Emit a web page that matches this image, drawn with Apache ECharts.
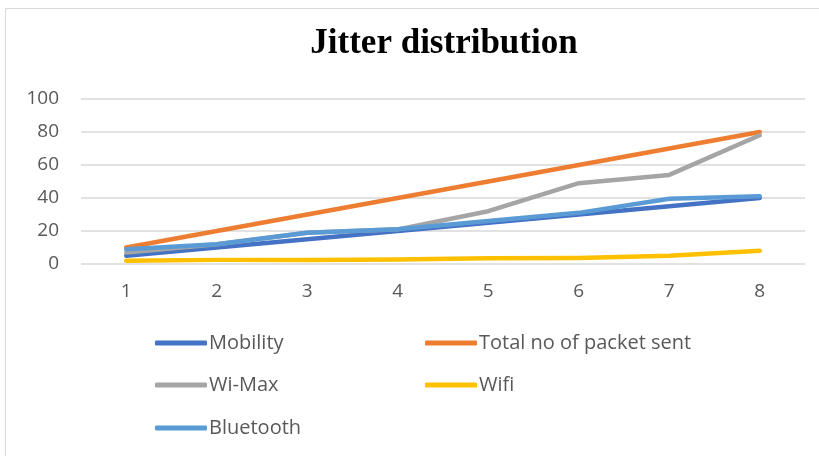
<!DOCTYPE html>
<html>
<head>
<meta charset="utf-8">
<script src="https://cdn.jsdelivr.net/npm/echarts@6/dist/echarts.min.js"></script>
<style>
  html, body { margin: 0; padding: 0; background: #fff; }
  #chart { width: 819px; height: 456px; }
</style>
</head>
<body>
<div id="chart"></div>
<script>
// data
var categories = ['1', '2', '3', '4', '5', '6', '7', '8'];
var mobility = [5, 10, 15, 20, 25, 30, 35, 40];
var totalSent = [10, 20, 30, 40, 50, 60, 70, 80];
var wiMax = [7, 12, 19, 21, 32, 49, 54, 78];
var wifi = [2, 2.5, 2.5, 2.7, 3.5, 3.7, 5, 8];
var bluetooth = [9, 12, 19, 21, 26, 31, 39.5, 41];

var names = ['Mobility', 'Total no of packet sent', 'Wi-Max', 'Wifi', 'Bluetooth'];
var colors = ['#4472c4', '#ed7d31', '#a5a5a5', '#ffc000', '#5b9bd5'];
var values = [mobility, totalSent, wiMax, wifi, bluetooth];

// legend positions (two columns)
var legendPos = [[155, 333], [425, 333], [155, 375], [425, 375], [155, 418]];

var myChart = echarts.init(document.getElementById('chart'));

var legends = names.map(function (n, i) {
    return {
        data: [n],
        left: legendPos[i][0],
        top: legendPos[i][1],
        padding: 0,
        icon: 'roundRect',
        itemWidth: 52,
        itemHeight: 5,
        textStyle: { fontSize: 20, color: '#595959', fontFamily: 'Open Sans', padding: [0, 0, 0, -3] }
    };
});

var series = names.map(function (n, i) {
    return {
        name: n,
        type: 'line',
        data: values[i],
        symbol: 'none',
        lineStyle: { width: 4.5, color: colors[i], cap: 'round', join: 'round' },
        itemStyle: { color: colors[i] }
    };
});

var option = {
    animation: false,
    backgroundColor: '#fff',
    title: {
        text: 'Jitter distribution',
        left: 439,
        textAlign: 'center',
        top: 21,
        textStyle: { fontFamily: 'Liberation Serif', fontWeight: 'bold', fontSize: 35, color: '#000' }
    },
    graphic: [{
        type: 'rect',
        shape: { x: 5.5, y: 8.5, width: 830, height: 460 },
        style: { fill: 'none', stroke: '#d9d9d9', lineWidth: 1 },
        silent: true
    }],
    legend: legends,
    grid: { left: 81, right: 14, top: 99, bottom: 192 },
    xAxis: {
        type: 'category',
        data: categories,
        boundaryGap: true,
        axisLine: { show: false },
        axisTick: { show: false },
        axisLabel: { fontSize: 19, color: '#595959', margin: 18, fontFamily: 'Open Sans' }
    },
    yAxis: {
        type: 'value',
        min: 0,
        max: 100,
        interval: 20,
        axisLine: { show: false },
        axisTick: { show: false },
        axisLabel: { fontSize: 19, color: '#595959', margin: 22, fontFamily: 'Open Sans' },
        splitLine: { lineStyle: { color: '#d9d9d9', width: 1.5 } }
    },
    series: series
};

myChart.setOption(option);
</script>
</body>
</html>
